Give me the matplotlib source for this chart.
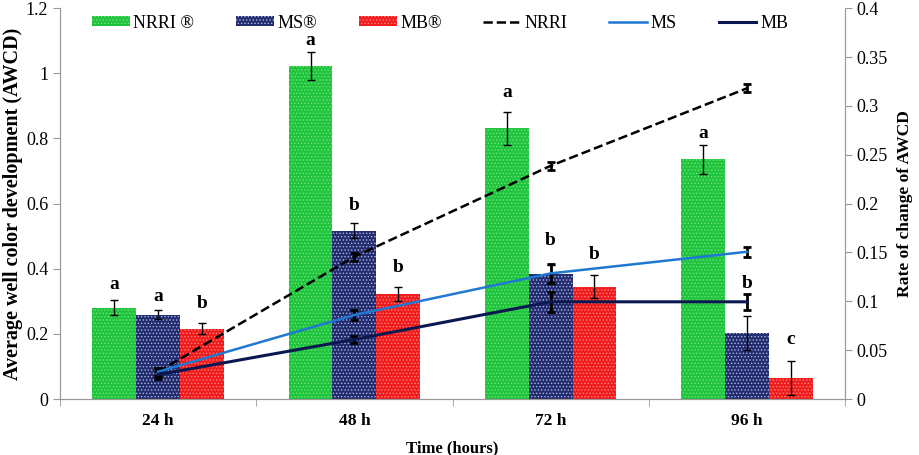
import numpy as np
import matplotlib
matplotlib.use("Agg")
import matplotlib.pyplot as plt
from matplotlib.patches import Patch
from matplotlib.lines import Line2D

plt.rcParams['font.family'] = ['Liberation Serif', 'DejaVu Serif']
plt.rcParams['hatch.linewidth'] = 0.6

times = ['24 h', '48 h', '72 h', '96 h']

# AWCD bars (left axis)
nrri_bar = [0.281, 1.022, 0.831, 0.736]
nrri_bar_err = [0.022, 0.044, 0.051, 0.045]
ms_bar = [0.259, 0.517, 0.383, 0.204]
ms_bar_err = [0.014, 0.022, 0.03, 0.052]
mb_bar = [0.216, 0.322, 0.345, 0.065]
mb_bar_err = [0.016, 0.022, 0.036, 0.053]

nrri_letters = ['a', 'a', 'a', 'a']
ms_letters = ['a', 'b', 'b', 'b']
mb_letters = ['b', 'b', 'b', 'c']

# rate of change lines (right axis)
nrri_rate = [0.028, 0.1456, 0.2387, 0.318]
nrri_rate_err = [0.004, 0.004, 0.004, 0.004]
ms_rate = [0.028, 0.086, 0.1286, 0.1507]
ms_rate_err = [0.004, 0.005, 0.01, 0.005]
mb_rate = [0.025, 0.061, 0.0995, 0.0995]
mb_rate_err = [0.004, 0.004, 0.01, 0.008]

green, green_dot = '#1fc43c', '#6fe27f'
navy, navy_dot = '#232c6e', '#aab4e0'
red, red_dot = '#f01c1c', '#ff8080'

fig = plt.figure(figsize=(9.2, 4.55), dpi=100)
ax = fig.add_axes([0.0652, 0.123, 0.8533, 0.859])
ax2 = ax.twinx()

x = np.arange(len(times))
w = 0.223
err_kw = dict(ecolor='black', capsize=3, elinewidth=1, capthick=1)

ax.bar(x - w, nrri_bar, w, yerr=nrri_bar_err, color=green, edgecolor=green_dot,
       hatch='.....', linewidth=0, error_kw=err_kw)
ax.bar(x, ms_bar, w, yerr=ms_bar_err, color=navy, edgecolor=navy_dot,
       hatch='.....', linewidth=0, error_kw=err_kw)
ax.bar(x + w, mb_bar, w, yerr=mb_bar_err, color=red, edgecolor=red_dot,
       hatch='.....', linewidth=0, error_kw=err_kw)

# gap between error bar top and letter centre (as placed in the original)
gaps = [[0.048, 0.036, 0.058, 0.035],
        [0.041, 0.056, 0.075, 0.1],
        [0.062, 0.06, 0.063, 0.066]]
for k, (off, vals, errs, lets) in enumerate([(-w, nrri_bar, nrri_bar_err, nrri_letters),
                                             (0, ms_bar, ms_bar_err, ms_letters),
                                             (w, mb_bar, mb_bar_err, mb_letters)]):
    for i in range(len(times)):
        ax.text(x[i] + off, vals[i] + errs[i] + gaps[k][i], lets[i], ha='center',
                va='center', fontsize=14, fontweight='bold')

ax2.errorbar(x, nrri_rate, yerr=nrri_rate_err, color='black', ls='--', lw=1.8,
             ecolor='black', elinewidth=2, capsize=3, capthick=2)
ax2.errorbar(x, ms_rate, yerr=ms_rate_err, color='#1f78d1', lw=1.8,
             ecolor='black', elinewidth=2, capsize=3, capthick=2)
ax2.errorbar(x, mb_rate, yerr=mb_rate_err, color='#0b1850', lw=2.2,
             ecolor='black', elinewidth=2, capsize=3, capthick=2)

ax.set_xlim(-0.5, 3.5)
ax.set_ylim(0, 1.2)
ax2.set_ylim(0, 0.4)
ax.set_yticks([0, 0.2, 0.4, 0.6, 0.8, 1, 1.2])
ax.set_yticklabels(['0', '0.2', '0.4', '0.6', '0.8', '1', '1.2'])
ax2.set_yticks(np.arange(0, 0.41, 0.05))
ax2.set_yticklabels(['0', '0.05', '0.1', '0.15', '0.2', '0.25', '0.3', '0.35', '0.4'])

ax.set_xticks(x)
ax.set_xticklabels(times, fontweight='bold')
ax.set_xticks(np.arange(-0.5, 3.6, 1), minor=True)
ax.tick_params(axis='x', which='major', length=0, labelsize=12.5, pad=10)
ax.tick_params(axis='x', which='minor', length=5, color='#999999')
ax.tick_params(axis='y', labelsize=13, color='#999999', length=5)
ax2.tick_params(axis='y', labelsize=13, color='#999999', length=5)

for a in (ax, ax2):
    a.spines['top'].set_visible(False)
    for s in ['left', 'right', 'bottom']:
        a.spines[s].set_color('#999999')

ax.set_xlabel('Time (hours)', fontsize=12, fontweight='bold', labelpad=8)
ax.set_ylabel('Average well color development (AWCD)', fontsize=14.5, fontweight='bold',
              labelpad=2)
ax2.set_ylabel('Rate of change of AWCD', fontsize=12.6, fontweight='bold', labelpad=6)

handles = [Patch(facecolor=green, edgecolor=green_dot, hatch='.....', linewidth=0),
           Patch(facecolor=navy, edgecolor=navy_dot, hatch='.....', linewidth=0),
           Patch(facecolor=red, edgecolor=red_dot, hatch='.....', linewidth=0),
           Line2D([], [], color='black', ls='--', lw=1.8),
           Line2D([], [], color='#1f78d1', lw=1.8),
           Line2D([], [], color='#0b1850', lw=2.2)]
labels = ['NRRI ®', 'MS®', 'MB®', 'NRRI', 'MS', 'MB']
fig.legend(handles, labels, loc='center', bbox_to_anchor=(440 / 920, 1 - 23 / 455), ncol=6,
           frameon=False, fontsize=13, handlelength=2.1, handleheight=0.5,
           handletextpad=0.2, columnspacing=2.3)

fig.savefig('out.png', dpi=100)
